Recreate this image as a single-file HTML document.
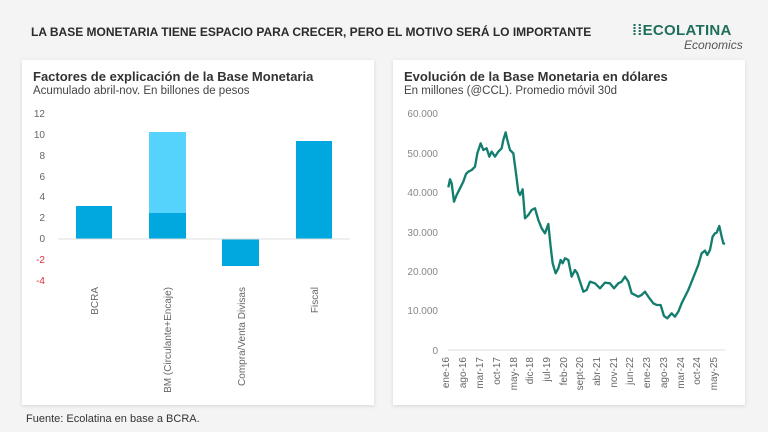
<!DOCTYPE html>
<html><head><meta charset="utf-8"><style>
body{margin:0;width:768px;height:432px;background:#f4f4f4;font-family:"Liberation Sans",sans-serif;position:relative;overflow:hidden;color:#333}
.t{position:absolute;left:31px;top:25px;font-size:12px;font-weight:bold;color:#2b2b2b;letter-spacing:0px;white-space:nowrap}
.card{position:absolute;top:60px;width:352px;height:345px;background:#fff;box-shadow:0 1px 4px rgba(0,0,0,.12)}
.ct{position:absolute;left:11px;top:9px;font-size:13px;font-weight:bold;color:#333}
.cs{position:absolute;left:11px;top:25px;font-size:11.5px;color:#444}
.logo{position:absolute;left:632px;top:22px;font-size:15px;font-weight:bold;color:#1f6e5c;letter-spacing:0.3px;white-space:nowrap}
.eco{position:absolute;left:684px;top:38px;font-size:12px;font-style:italic;color:#555}
.src{position:absolute;left:26px;top:413px;font-size:11px;color:#333}
</style></head><body>
<div class="t">LA BASE MONETARIA TIENE ESPACIO PARA CRECER, PERO EL MOTIVO SERÁ LO IMPORTANTE</div>
<div class="logo">⁞⁞ECOLATINA</div>
<div class="eco">Economics</div>
<div class="card" style="left:22px"><div class="ct">Factores de explicación de la Base Monetaria</div><div class="cs">Acumulado abril-nov. En billones de pesos</div></div>
<div class="card" style="left:393px"><div class="ct">Evolución de la Base Monetaria en dólares</div><div class="cs">En millones (@CCL). Promedio móvil 30d</div></div>
<svg width="768" height="432" style="position:absolute;left:0;top:0" font-family="Liberation Sans, sans-serif" font-size="10" fill="#666">
<g text-anchor="end">
<text x="45" y="117">12</text><text x="45" y="138">10</text><text x="45" y="159">8</text><text x="45" y="180">6</text><text x="45" y="200">4</text><text x="45" y="221">2</text><text x="45" y="242">0</text>
<text x="45" y="263" fill="#e0303a">-2</text><text x="45" y="284" fill="#e0303a">-4</text>
</g>
<rect x="76" y="206" width="36" height="33" fill="#00a8df"/>
<rect x="149" y="132" width="37" height="81" fill="#55d3fd"/>
<rect x="149" y="213" width="37" height="26" fill="#00a8df"/>
<rect x="222" y="239" width="37" height="27" fill="#00a8df"/>
<rect x="296" y="141" width="36" height="98" fill="#00a8df"/>
<line x1="58" y1="239" x2="350" y2="239" stroke="#ddd"/>
<g text-anchor="end">
<text transform="translate(98,287) rotate(-90)">BCRA</text>
<text transform="translate(171,287) rotate(-90)">BM (Circulante+Encaje)</text>
<text transform="translate(245,287) rotate(-90)">Compra/Venta Divisas</text>
<text transform="translate(318,287) rotate(-90)">Fiscal</text>
</g>
<g text-anchor="end" fill="#888">
<text x="438" y="117">60.000</text><text x="438" y="157">50.000</text><text x="438" y="196">40.000</text><text x="438" y="236">30.000</text><text x="438" y="275">20.000</text><text x="438" y="314">10.000</text><text x="438" y="354">0</text>
</g>
<line x1="448" y1="350" x2="725" y2="350" stroke="#ddd"/>
<g text-anchor="end" fill="#666">
<text transform="translate(449,357) rotate(-90)">ene-16</text>
<text transform="translate(466,357) rotate(-90)">ago-16</text>
<text transform="translate(483,357) rotate(-90)">mar-17</text>
<text transform="translate(500,357) rotate(-90)">oct-17</text>
<text transform="translate(517,357) rotate(-90)">may-18</text>
<text transform="translate(533,357) rotate(-90)">dic-18</text>
<text transform="translate(550,357) rotate(-90)">jul-19</text>
<text transform="translate(567,357) rotate(-90)">feb-20</text>
<text transform="translate(583,357) rotate(-90)">sept-20</text>
<text transform="translate(600,357) rotate(-90)">abr-21</text>
<text transform="translate(617,357) rotate(-90)">nov-21</text>
<text transform="translate(633,357) rotate(-90)">jun-22</text>
<text transform="translate(650,357) rotate(-90)">ene-23</text>
<text transform="translate(667,357) rotate(-90)">ago-23</text>
<text transform="translate(684,357) rotate(-90)">mar-24</text>
<text transform="translate(700,357) rotate(-90)">oct-24</text>
<text transform="translate(717,357) rotate(-90)">may-25</text>
</g>
<g transform="translate(390,100) scale(0.3333)">
<polyline fill="none" stroke="#137d6e" stroke-width="7" stroke-linejoin="round" points="175,262 180,238 185,250 192,305 200,285 210,265 220,245 228,222 235,215 245,210 255,200 262,160 272,130 280,150 290,145 298,170 305,155 315,170 325,155 335,145 340,120 347,97 352,120 360,150 370,160 378,220 385,275 390,285 398,268 405,355 415,345 425,330 435,325 445,360 455,385 465,400 475,372 482,440 488,490 497,520 505,505 512,480 518,490 525,475 535,480 545,530 555,510 562,520 570,545 580,575 590,570 600,545 615,550 630,565 645,548 660,550 672,565 685,550 695,545 705,530 715,545 725,580 735,585 745,590 755,585 765,575 775,590 790,610 800,615 812,615 822,648 832,655 845,640 855,650 865,635 875,610 885,590 895,570 905,545 915,520 925,495 935,460 945,452 952,465 960,450 968,410 975,400 980,398 988,378 995,410 1000,430 1005,432"/>
</g>
</svg>
<div class="src">Fuente: Ecolatina en base a BCRA.</div>
</body></html>
